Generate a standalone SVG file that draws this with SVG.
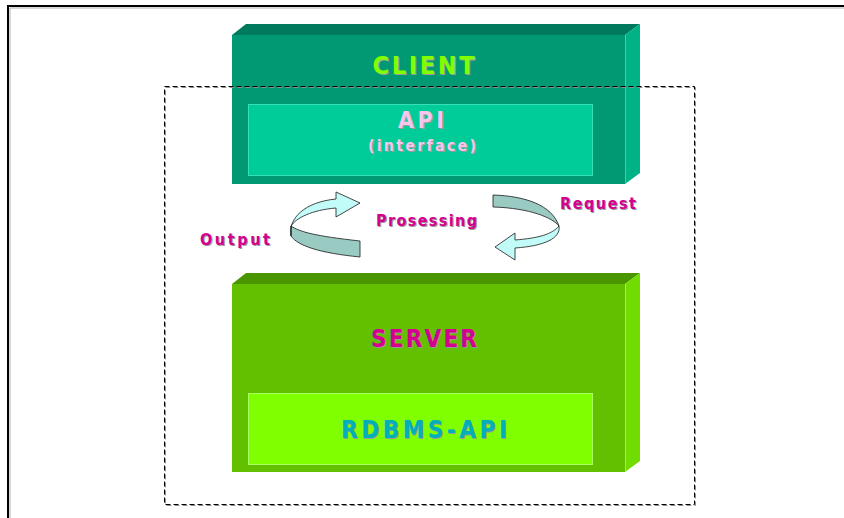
<svg xmlns="http://www.w3.org/2000/svg" width="844" height="518" viewBox="0 0 844 518">
  <style>
    .lbl { font-family: "DejaVu Sans Condensed", "DejaVu Sans", "Liberation Sans", sans-serif; font-stretch: condensed; font-weight: bold; text-anchor: middle; }
    .sh { fill: #9a9a9a; }
    .frame { fill: none; stroke: #000; stroke-width: 2; }
    .frame-sh { fill: none; stroke: #b0b0b0; stroke-width: 1; }
    .dash { fill: none; stroke: #000; stroke-width: 1; stroke-dasharray: 5 3; }
    .dash-sh { fill: none; stroke: #909090; stroke-width: 1; stroke-dasharray: 5 3; }
    .ribbon-light { fill: #c2fcf8; stroke: #1a1a1a; stroke-width: 0.8; }
    .ribbon-dark { fill: #99cbc2; stroke: #1a1a1a; stroke-width: 0.8; }
  </style>

  <rect width="844" height="518" fill="#ffffff"/>

  <!-- page frame: top and left edges -->
  <polyline class="frame-sh" points="10,518 10,8 844,8"/>
  <polyline class="frame" points="8,518 8,6 844,6"/>

  <!-- client block -->
  <g id="client">
    <polygon points="232,35 246,24 640,24 625,35" fill="#007a5c"/>
    <polygon points="625,35 640,24 640,173 625,184" fill="#00b386"/>
    <line x1="625.5" y1="35" x2="625.5" y2="184" stroke="#40d0a8" stroke-width="1"/>
    <rect x="232" y="35" width="393" height="149" fill="#009973"/>
    <rect x="248.5" y="104.5" width="344" height="71" fill="#00cc99" stroke="#33e0b8" stroke-width="1"/>
    <text class="lbl sh" x="424.5" y="74.5" font-size="25" textLength="102" lengthAdjust="spacing">CLIENT</text>
    <text class="lbl" x="423.5" y="73.5" font-size="25" fill="#80ff00" textLength="102" lengthAdjust="spacing">CLIENT</text>
  </g>

  <g id="api">
    <text class="lbl sh" x="422" y="129" font-size="23" textLength="46" lengthAdjust="spacing">API</text>
    <text class="lbl" x="421" y="128" font-size="23" fill="#f6c6ec" textLength="46" lengthAdjust="spacing">API</text>
    <text class="lbl sh" x="423" y="152" font-size="16" textLength="108" lengthAdjust="spacing">(interface)</text>
    <text class="lbl" x="422" y="151" font-size="16" fill="#f6c6ec" textLength="108" lengthAdjust="spacing">(interface)</text>
  </g>

  <!-- dashed boundary -->
  <rect class="dash-sh" x="165.5" y="87.5" width="530" height="418"/>
  <rect class="dash" x="164.5" y="86.5" width="530" height="418"/>

  <!-- server block -->
  <g id="server">
    <polygon points="232,284 246,273 640,273 625,284" fill="#4a9600"/>
    <polygon points="625,284 640,273 640,461 625,472" fill="#70dc00"/>
    <line x1="625.5" y1="284" x2="625.5" y2="472" stroke="#a0f040" stroke-width="1"/>
    <rect x="232" y="284" width="393" height="188" fill="#63c000"/>
    <rect x="248.5" y="393.5" width="344" height="71" fill="#80ff00" stroke="#a8ff60" stroke-width="1"/>
    <text class="lbl sh" x="425" y="348" font-size="24" textLength="106" lengthAdjust="spacing">SERVER</text>
    <text class="lbl" x="424" y="347" font-size="24" fill="#d4008f" textLength="106" lengthAdjust="spacing">SERVER</text>
  </g>

  <g id="rdbms-api">
    <text class="lbl sh" x="425" y="439" font-size="24" textLength="166" lengthAdjust="spacing">RDBMS-API</text>
    <text class="lbl" x="424" y="438" font-size="24" fill="#00b0b8" textLength="166" lengthAdjust="spacing">RDBMS-API</text>
  </g>

  <!-- circular flow arrows -->
  <g id="connectors">
    <!-- output arrow (left) -->
    <path class="ribbon-dark" d="M291,226 C300,232 315,236 360,241 L360,257 C320,253 298,246 291,236 Z"/>
    <path class="ribbon-light" d="M291,236 C288,218 305,202 336,199 L336,192 L360,203 L336,217 L336,208 C312,210 296,218 291,226 Z"/>
    <!-- request arrow (right) -->
    <path class="ribbon-dark" d="M493,195 C525,196 552,205 559,226 C553,218 530,208 493,207 Z"/>
    <path class="ribbon-light" d="M559,226 C561,238 545,246 515,248 L515,260 L495,247 L515,233 L515,240 C540,238 552,234 559,226 Z"/>
  </g>

  <g id="flow-labels">
    <text class="lbl sh" x="427.5" y="227" font-size="16" textLength="101" lengthAdjust="spacing">Prosessing</text>
    <text class="lbl" x="426.5" y="226" font-size="16" fill="#d4008f" textLength="101" lengthAdjust="spacing">Prosessing</text>
    <text class="lbl sh" x="236" y="246" font-size="16" textLength="70" lengthAdjust="spacing">Output</text>
    <text class="lbl" x="235" y="245" font-size="16" fill="#d4008f" textLength="70" lengthAdjust="spacing">Output</text>
    <text class="lbl sh" x="599" y="210" font-size="16" textLength="76" lengthAdjust="spacing">Request</text>
    <text class="lbl" x="598" y="209" font-size="16" fill="#d4008f" textLength="76" lengthAdjust="spacing">Request</text>
  </g>
</svg>
